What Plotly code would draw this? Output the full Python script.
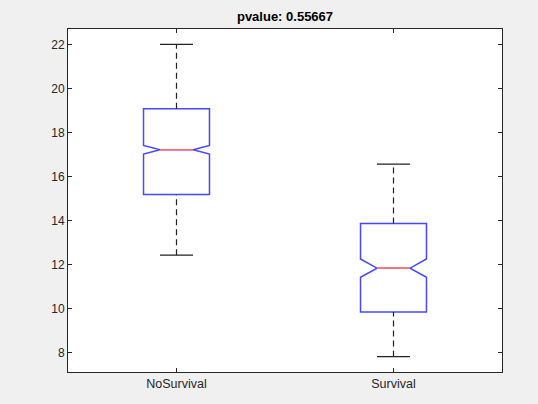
import plotly.graph_objects as go

# ---- data ----
categories = ["NoSurvival", "Survival"]
upper_whisker = [22.01, 16.57]
q3_values = [19.09, 13.87]
median_values = [17.22, 11.84]
q1_values = [15.19, 9.85]
lower_whisker = [12.43, 7.82]
notch_halfspan = [0.195, 0.415]
y_ticks = [8, 10, 12, 14, 16, 18, 20, 22]
title_text = "pvalue: 0.55667"

# ---- style ----
BOX_W = 0.304
CAP_HALF = 0.076
NOTCH_HALF = 0.076
AX_COL = "#262626"
FONT = "Liberation Sans, Arial, sans-serif"

positions = list(range(1, len(categories) + 1))

fig = go.Figure()

fig.add_trace(go.Box(
    x=positions,
    q1=q1_values, median=median_values, q3=q3_values,
    lowerfence=q1_values, upperfence=q3_values,
    notchspan=notch_halfspan, notched=True, notchwidth=0.25,
    width=BOX_W, whiskerwidth=0,
    line=dict(color="rgba(40,40,255,0.85)", width=1.5),
    fillcolor="rgba(0,0,0,0)",
    boxpoints=False, hoverinfo="skip", showlegend=False,
))

for p, up, hi, lo, low, med in zip(positions, upper_whisker, q3_values, q1_values, lower_whisker, median_values):
    # dashed whiskers
    fig.add_trace(go.Scatter(x=[p, p], y=[hi, up], mode="lines",
                             line=dict(color="#222222", width=1.2, dash="6px,4px"),
                             showlegend=False, hoverinfo="skip"))
    fig.add_trace(go.Scatter(x=[p, p], y=[low, lo], mode="lines",
                             line=dict(color="#222222", width=1.2, dash="6px,4px"),
                             showlegend=False, hoverinfo="skip"))
    # caps
    fig.add_trace(go.Scatter(x=[p - CAP_HALF, p + CAP_HALF], y=[up, up], mode="lines",
                             line=dict(color="#222222", width=1.2),
                             showlegend=False, hoverinfo="skip"))
    fig.add_trace(go.Scatter(x=[p - CAP_HALF, p + CAP_HALF], y=[low, low], mode="lines",
                             line=dict(color="#222222", width=1.2),
                             showlegend=False, hoverinfo="skip"))
    # red median
    fig.add_trace(go.Scatter(x=[p - NOTCH_HALF, p + NOTCH_HALF], y=[med, med], mode="lines",
                             line=dict(color="#ff7070", width=1.6),
                             showlegend=False, hoverinfo="skip"))

fig.update_layout(
    width=538, height=404,
    margin=dict(l=68, r=36, t=29, b=32),
    paper_bgcolor="#f0f0f0", plot_bgcolor="white",
    showlegend=False,
    font=dict(family=FONT, color=AX_COL, size=12),
    title=dict(text="<b>" + title_text + "</b>", x=0.5, xref="paper",
               y=1 - 16 / 404, yref="container", yanchor="middle",
               font=dict(size=13, color="black", family=FONT)),
    xaxis=dict(range=[0.5, 2.5], tickvals=positions, ticktext=categories,
               ticks="inside", ticklen=4, tickcolor=AX_COL,
               showline=True, linecolor=AX_COL, linewidth=1, mirror="allticks",
               showgrid=False, zeroline=False,
               tickfont=dict(size=12.5, color=AX_COL)),
    yaxis=dict(range=[7.12, 22.71], tickvals=y_ticks,
               ticks="inside", ticklen=4, tickcolor=AX_COL,
               showline=True, linecolor=AX_COL, linewidth=1, mirror="allticks",
               showgrid=False, zeroline=False,
               tickfont=dict(size=12, color=AX_COL)),
)

fig.write_html("out.html")
